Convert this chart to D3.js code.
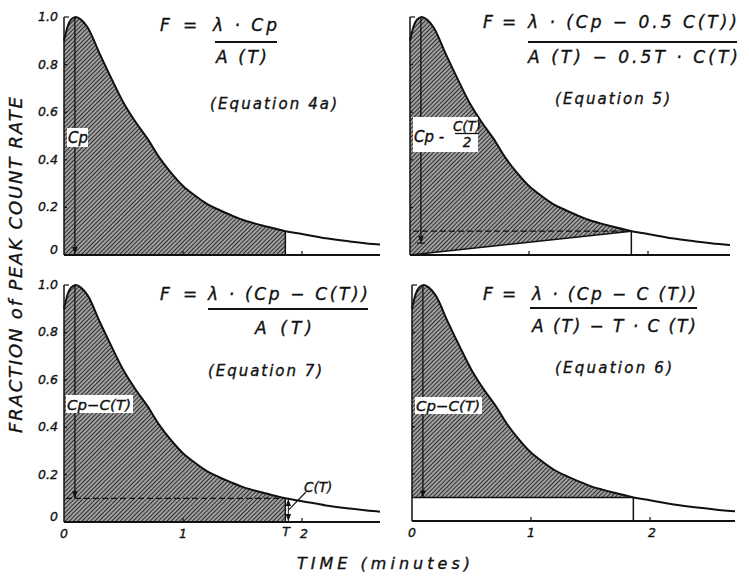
<!DOCTYPE html>
<html><head><meta charset="utf-8">
<script src="https://cdn.jsdelivr.net/npm/d3@7"></script>
<style>
body{margin:0;background:#fff}
svg text{font-family:"DejaVu Sans",sans-serif;font-style:italic;fill:#111;stroke:#111;stroke-width:0.35px}
</style>
</head><body>
<svg id="c" width="749" height="579"></svg>
<script>
// ---- data ----
const times = [0,0.03,0.06,0.1,0.14,0.2,0.3,0.4,0.5,0.6,0.7,0.8,0.9,1.0,1.1,1.2,1.3,1.4,1.5,1.6,1.7,1.86,2.0,2.2,2.4,2.6,2.75];
const rates = [0.90,0.96,0.99,1.0,0.99,0.955,0.845,0.74,0.64,0.56,0.49,0.41,0.345,0.29,0.25,0.215,0.19,0.168,0.148,0.133,0.12,0.10,0.088,0.07,0.057,0.046,0.04];
const T = 1.86;          // integration end time (minutes)
const CT = 0.10;         // C(T)
const tPeak = 0.1;       // time of Cp
const yTicks = [0,0.2,0.4,0.6,0.8,1.0];
const yTickLabels = ["0","0.2","0.4","0.6","0.8","1.0"];
const xTicks = [0,1,2];
const xTickLabels = ["0","1","2"];
const equationNames = ["(Equation 4a)","(Equation 5)","(Equation 7)","(Equation 6)"];

const data = times.map((t,i)=>({t, v:rates[i]}));
const svg = d3.select("#c");
const defs = svg.append("defs");
const pat = defs.append("pattern").attr("id","hatch").attr("patternUnits","userSpaceOnUse")
  .attr("width",3).attr("height",3).attr("patternTransform","rotate(45)");
pat.append("rect").attr("width",3).attr("height",3).attr("fill","#a0a0a0");
pat.append("line").attr("x1",0).attr("y1",0).attr("x2",0).attr("y2",3).attr("stroke","#222").attr("stroke-width",1.8);

const mk = defs.append("marker").attr("id","ah").attr("viewBox","0 0 10 10").attr("refX",10).attr("refY",5)
  .attr("markerWidth",7).attr("markerHeight",7).attr("markerUnits","userSpaceOnUse").attr("orient","auto");
mk.append("path").attr("d","M0,1 L10,5 L0,9 Z").attr("fill","#111");

const panels = [
  {key:"4a", x0:64, xEnd:380, yTop:17, yBot:255, ylab:true, xlab:false},
  {key:"5",  x0:410, xEnd:730, yTop:17, yBot:255, ylab:false, xlab:false},
  {key:"7",  x0:64, xEnd:380, yTop:285, yBot:522, ylab:true, xlab:true},
  {key:"6",  x0:412, xEnd:735, yTop:285, yBot:521, ylab:false, xlab:true}
];
const unit = 119;

panels.forEach((p,pi)=>{
  const x = d3.scaleLinear().domain([0,(p.xEnd-p.x0)/unit]).range([p.x0,p.xEnd]);
  const y = d3.scaleLinear().domain([0,1]).range([p.yBot,p.yTop]);
  const g = svg.append("g");
  const cid = "clip"+pi;
  defs.append("clipPath").attr("id",cid).append("rect")
    .attr("x",p.x0-2).attr("y",p.yTop-10).attr("width",p.xEnd-p.x0+2).attr("height",p.yBot-p.yTop+12);
  const cur = d3.curveMonotoneX;
  const sub = data.filter(d=>d.t<=T+1e-9);
  let base;
  if (p.key==="4a"||p.key==="7") base = d=>y(0);
  else if (p.key==="5") base = d=>y(CT*d.t/T);
  else base = d=>y(CT);
  g.append("path").datum(sub)
    .attr("d", d3.area().x(d=>x(d.t)).y1(d=>y(d.v)).y0(base).curve(cur))
    .attr("fill","url(#hatch)");
  // curve
  g.append("path").datum(data).attr("clip-path",`url(#${cid})`)
    .attr("d", d3.line().x(d=>x(d.t)).y(d=>y(d.v)).curve(cur))
    .attr("fill","none").attr("stroke","#111").attr("stroke-width",2);
  // axes
  g.append("line").attr("x1",x(0)).attr("x2",x(0)).attr("y1",y(1)).attr("y2",y(0)).attr("stroke","#111").attr("stroke-width",1.5);
  g.append("line").attr("x1",x(0)).attr("x2",p.xEnd).attr("y1",y(0)).attr("y2",y(0)).attr("stroke","#111").attr("stroke-width",1.8);
  yTicks.forEach((v,i)=>{
    g.append("line").attr("x1",x(0)).attr("x2",x(0)+(v===1?5:3)).attr("y1",y(v)).attr("y2",y(v)).attr("stroke","#111").attr("stroke-width",1.2);
    if (p.ylab) g.append("text").attr("x",58).attr("y",y(v)+ (v===0?-1:4)).attr("text-anchor","end")
      .attr("font-size",12.5).text(yTickLabels[i]);
  });
  xTicks.forEach((t,i)=>{
    if (t>0) g.append("line").attr("x1",x(t)).attr("x2",x(t)).attr("y1",y(0)).attr("y2",y(0)-4).attr("stroke","#111").attr("stroke-width",1.2);
    if (p.xlab) g.append("text").attr("x",x(t)+ (t===2?2:0)).attr("y",y(0)+16).attr("text-anchor","middle")
      .attr("font-size",12.5).text(xTickLabels[i]);
  });
  // T vertical line
  g.append("line").attr("x1",x(T)).attr("x2",x(T)).attr("y1",y(0)).attr("y2",y(CT)).attr("stroke","#111").attr("stroke-width",1.5);

  const ax = x(tPeak)-1;
  if (p.key==="4a") {
    g.append("line").attr("x1",ax).attr("x2",ax).attr("y1",y(1)).attr("y2",y(0)-1).attr("stroke","#111").attr("stroke-width",1.3).attr("marker-end","url(#ah)");
    g.append("rect").attr("x",67).attr("y",128).attr("width",21).attr("height",19).attr("fill","#fff");
    g.append("text").attr("x",68).attr("y",143).attr("font-size",15).text("Cp");
  }
  if (p.key==="5") {
    g.append("line").attr("x1",x(0)).attr("x2",x(T)).attr("y1",y(0)).attr("y2",y(CT)).attr("stroke","#111").attr("stroke-width",1.6);
    g.append("line").attr("x1",x(0)+3).attr("x2",x(T)-6).attr("y1",y(CT)).attr("y2",y(CT)).attr("stroke","#111").attr("stroke-width",1.3).attr("stroke-dasharray","6,3");
    g.append("line").attr("x1",ax).attr("x2",ax).attr("y1",y(1)).attr("y2",y(CT/2)).attr("stroke","#111").attr("stroke-width",1.3).attr("marker-end","url(#ah)");
    g.append("line").attr("x1",ax-4).attr("x2",ax+4).attr("y1",y(CT/2)).attr("y2",y(CT/2)).attr("stroke","#111").attr("stroke-width",1.2);
    g.append("rect").attr("x",413).attr("y",117).attr("width",65).attr("height",35).attr("fill","#fff");
    g.append("text").attr("x",414).attr("y",142).attr("font-size",15).text("Cp -");
    g.append("text").attr("x",467).attr("y",131).attr("font-size",13.5).attr("text-anchor","middle").text("C(T)");
    g.append("line").attr("x1",455).attr("x2",479).attr("y1",133.5).attr("y2",133.5).attr("stroke","#111").attr("stroke-width",1.3);
    g.append("text").attr("x",467).attr("y",147).attr("font-size",13.5).attr("text-anchor","middle").text("2");
  }
  if (p.key==="7") {
    g.append("line").attr("x1",x(0)+2).attr("x2",x(T)-3).attr("y1",y(CT)).attr("y2",y(CT)).attr("stroke","#111").attr("stroke-width",1.3).attr("stroke-dasharray","6,3");
    g.append("line").attr("x1",ax).attr("x2",ax).attr("y1",y(1)).attr("y2",y(CT)).attr("stroke","#111").attr("stroke-width",1.3).attr("marker-end","url(#ah)");
    // C(T) dimension arrows
    const xt = x(T)+3;
    g.append("line").attr("x1",xt).attr("x2",xt).attr("y1",(y(0)+y(CT))/2).attr("y2",y(CT)+1).attr("stroke","#111").attr("stroke-width",1).attr("marker-end","url(#ah)");
    g.append("line").attr("x1",xt).attr("x2",xt).attr("y1",(y(0)+y(CT))/2).attr("y2",y(0)-1).attr("stroke","#111").attr("stroke-width",1).attr("marker-end","url(#ah)");
    g.append("line").attr("x1",xt).attr("x2",306).attr("y1",(y(0)+y(CT))/2).attr("y2",492).attr("stroke","#111").attr("stroke-width",1.1);
    g.append("text").attr("x",304).attr("y",492).attr("font-size",13.5).text("C(T)");
    g.append("text").attr("x",286).attr("y",y(0)+14).attr("text-anchor","middle").attr("font-size",12.5).text("T");
    g.append("rect").attr("x",66).attr("y",395).attr("width",67).attr("height",18).attr("fill","#fff");
    g.append("text").attr("x",67).attr("y",410).attr("font-size",14).attr("textLength",64).attr("lengthAdjust","spacingAndGlyphs").text("Cp−C(T)");
  }
  if (p.key==="6") {
    g.append("line").attr("x1",x(0)).attr("x2",x(T)).attr("y1",y(CT)).attr("y2",y(CT)).attr("stroke","#111").attr("stroke-width",1.5);
    g.append("line").attr("x1",ax).attr("x2",ax).attr("y1",y(1)).attr("y2",y(CT)).attr("stroke","#111").attr("stroke-width",1.3).attr("marker-end","url(#ah)");
    g.append("rect").attr("x",415).attr("y",397).attr("width",67).attr("height",17).attr("fill","#fff");
    g.append("text").attr("x",416).attr("y",411).attr("font-size",14).attr("textLength",64).attr("lengthAdjust","spacingAndGlyphs").text("Cp−C(T)");
  }
});

// ---- equations ----
function txt(x,y,s,size,len,anchor){
  const t = svg.append("text").attr("x",x).attr("y",y).attr("font-size",size).text(s);
  if (len) t.attr("textLength",len).attr("lengthAdjust","spacing");
  if (anchor) t.attr("text-anchor",anchor);
  return t;
}
function hline(x1,x2,yy){ svg.append("line").attr("x1",x1).attr("x2",x2).attr("y1",yy).attr("y2",yy).attr("stroke","#111").attr("stroke-width",1.8); }

// 4a
txt(160,31,"F",17); txt(183,31,"=",17);
txt(213,31,"λ · Cp",17,64); hline(215,277,42); txt(216,63,"A (T)",17,51);
txt(210,109,equationNames[0],15,127);
// 5
txt(483,28,"F",17); txt(502,28,"=",17);
txt(528,28,"λ · (Cp − 0.5  C(T))",17,209); hline(528,737,42); txt(528,63,"A (T) − 0.5T · C(T)",17,210);
txt(555,104,equationNames[1],15,115);
// 7
txt(160,300,"F",17); txt(183,300,"=",17);
txt(208,300,"λ · (Cp − C(T))",17,160); hline(208,368,309); txt(255,334,"A (T)",17,57);
txt(208,376,equationNames[2],15,114);
// 6
txt(483,300,"F",17); txt(502,300,"=",17);
txt(532,300,"λ · (Cp − C (T))",17,164); hline(530,697,308); txt(532,332,"A (T) − T · C (T)",17,164);
txt(555,373,equationNames[3],15,117);

// axis titles
svg.append("text").attr("transform","translate(22,265) rotate(-90)").attr("text-anchor","middle")
  .attr("font-size",18).attr("textLength",336).attr("lengthAdjust","spacing").text("FRACTION of PEAK COUNT RATE");
svg.append("text").attr("x",297).attr("y",569).attr("font-size",16).attr("textLength",173).attr("lengthAdjust","spacing").text("TIME    (minutes)");
</script>
</body></html>
